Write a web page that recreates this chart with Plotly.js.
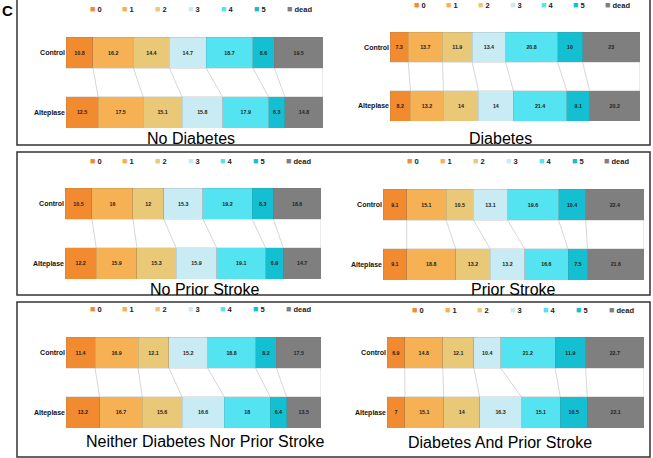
<!DOCTYPE html>
<html>
<head>
<meta charset="utf-8">
<script src="https://cdn.plot.ly/plotly-3.0.1.min.js"></script>
<style>html,body{margin:0;padding:0;background:#fff;}#chart{width:653px;height:458px;}</style>
</head>
<body>
<div id="chart"></div>
<script>
// ---------------- DATA ----------------
const levels = ['0', '1', '2', '3', '4', '5', 'dead'];
const groups = ['Control', 'Alteplase'];
const panelTitles = ['No Diabetes', 'Diabetes', 'No Prior Stroke', 'Prior Stroke',
                     'Neither Diabetes Nor Prior Stroke', 'Diabetes And Prior Stroke'];

const noDiabetesControl   = [10.8, 16.2, 14.4, 14.7, 18.7, 8.6, 19.5];
const noDiabetesAlteplase = [12.5, 17.5, 15.1, 15.8, 17.9, 6.3, 14.8];
const diabetesControl     = [7.3, 13.7, 11.9, 13.4, 20.8, 10, 23];
const diabetesAlteplase   = [8.2, 13.2, 14, 14, 21.4, 9.1, 20.2];
const noPriorControl      = [10.5, 16, 12, 15.3, 19.2, 8.3, 18.6];
const noPriorAlteplase    = [12.2, 15.9, 15.3, 15.9, 19.1, 6.9, 14.7];
const priorControl        = [9.1, 15.1, 10.5, 13.1, 19.6, 10.4, 22.4];
const priorAlteplase      = [9.1, 18.8, 13.2, 13.2, 16.6, 7.5, 21.6];
const neitherControl      = [11.4, 16.9, 12.1, 15.2, 18.8, 8.2, 17.5];
const neitherAlteplase    = [13.2, 16.7, 15.6, 16.6, 18, 6.4, 13.5];
const bothControl         = [6.9, 14.8, 12.1, 10.4, 21.2, 11.9, 22.7];
const bothAlteplase       = [7, 15.1, 14, 16.3, 15.1, 10.5, 22.1];

const panelData = [
  [noDiabetesControl, noDiabetesAlteplase],
  [diabetesControl, diabetesAlteplase],
  [noPriorControl, noPriorAlteplase],
  [priorControl, priorAlteplase],
  [neitherControl, neitherAlteplase],
  [bothControl, bothAlteplase]
];

// ---------------- STYLE / LAYOUT ----------------
const colors = ['#F28B30', '#F5B153', '#E9C877', '#C9ECF4', '#53E3F1', '#14BFD1', '#7F7F7F'];
const W = 653, H = 458;
const FONT = 'Liberation Sans, Arial, Helvetica, sans-serif';
// geometry in pixels: bar box x0,x1,y0,y1 ; legend first square x, spacing, legend y ; title centre x, title baseline y
const geom = [
  {bx: [66, 323], by: [37, 128], lx: 90, ls: 32.9, ly: 9, tx: 191, ty: 144},
  {bx: [390, 640], by: [32, 121], lx: 414.7, ls: 31.8, ly: 5, tx: 500, ty: 144},
  {bx: [65, 321], by: [188, 279], lx: 90, ls: 32.7, ly: 161, tx: 204, ty: 294.7},
  {bx: [383, 644], by: [189, 280], lx: 408, ls: 32.8, ly: 161, tx: 513, ty: 294.7},
  {bx: [66, 321], by: [337, 428], lx: 90, ls: 32.7, ly: 309, tx: 204.5, ty: 446.7},
  {bx: [387, 644], by: [337, 428], lx: 412.3, ls: 32.8, ly: 310, tx: 499.5, ty: 447.7}
];
const rowBoxes = [[17, 650, -2, 145], [17, 650, 152, 295], [17, 650, 302, 457]];
const bargap = 0.483;
const barW = 1 - bargap;

const px = x => x / W;
const py = y => 1 - y / H;

const traces = [];
const layout = {
  width: W, height: H,
  margin: {l: 0, r: 0, t: 0, b: 0, autoexpand: false},
  paper_bgcolor: '#fff', plot_bgcolor: 'rgba(0,0,0,0)',
  barmode: 'stack', barnorm: 'percent', bargap: bargap,
  font: {family: FONT, color: '#111'},
  showlegend: false,
  annotations: [], shapes: []
};

panelData.forEach((rows, p) => {
  const k = p === 0 ? '' : String(p + 1);
  const xa = 'x' + k, ya = 'y' + k;
  const g = geom[p];
  const ypos = groups.map((_, i) => i);

  levels.forEach((lv, j) => {
    const vals = rows.map(r => r[j]);
    traces.push({
      type: 'bar', orientation: 'h',
      x: vals, y: ypos,
      xaxis: xa, yaxis: ya,
      name: lv, showlegend: false,
      marker: {color: colors[j], line: {color: 'rgba(110,110,110,0.35)', width: 0.5}},
      text: vals.map(v => String(v)),
      textposition: 'inside', insidetextanchor: 'middle', textangle: 0,
      constraintext: 'none',
      textfont: {family: FONT, size: 5.3, color: '#222', weight: 'bold'},
      hoverinfo: 'x+y+name'
    });
    // legend item for this level
    layout.annotations.push({
      xref: 'paper', yref: 'paper', x: px(g.lx + j * g.ls - 1.5), y: py(g.ly),
      xanchor: 'left', yanchor: 'middle', showarrow: false, borderpad: 0,
      text: '<span style="color:' + colors[j] + ';font-size:9px">■</span> ' + lv,
      font: {family: FONT, size: 7.5, color: '#222', weight: 'bold'}
    });
  });

  // connector lines between cumulative boundaries
  const cum = rows.map(r => {
    const tot = r.reduce((a, b) => a + b, 0);
    let s = 0;
    return r.map(v => { s += v; return s / tot * 100; });
  });
  const cx = [], cy = [];
  levels.forEach((_, j) => {
    cx.push(cum[0][j], cum[1][j], null);
    cy.push(ypos[0] + barW / 2, ypos[1] - barW / 2, null);
  });
  traces.push({
    type: 'scatter', mode: 'lines', x: cx, y: cy, xaxis: xa, yaxis: ya,
    line: {color: '#c4c4c4', width: 0.7}, showlegend: false, hoverinfo: 'skip',
    cliponaxis: false
  });

  layout['xaxis' + k] = {
    domain: [px(g.bx[0]), px(g.bx[1])], anchor: ya, range: [0, 100],
    showgrid: false, zeroline: false, showticklabels: false, showline: false, ticks: '', fixedrange: true
  };
  layout['yaxis' + k] = {
    domain: [py(g.by[1]), py(g.by[0])], anchor: xa,
    range: [ypos[1] + barW / 2, ypos[0] - barW / 2],
    tickvals: ypos, ticktext: groups,
    showgrid: false, zeroline: false, showline: false, ticks: '', fixedrange: true,
    tickfont: {family: FONT, size: 7, color: '#111', weight: 'bold'}
  };
  layout.annotations.push({
    xref: 'paper', yref: 'paper', x: px(g.tx), y: py(g.ty - 5.6),
    xanchor: 'center', yanchor: 'middle', showarrow: false,
    text: panelTitles[p], font: {family: FONT, size: 16, color: '#000'}
  });
});

rowBoxes.forEach(b => {
  layout.shapes.push({
    type: 'rect', xref: 'paper', yref: 'paper',
    x0: px(b[0]), x1: px(b[1]), y0: py(b[3]), y1: py(b[2]),
    line: {color: '#333', width: 1.5}, fillcolor: 'rgba(0,0,0,0)', layer: 'below'
  });
});

layout.annotations.push({
  xref: 'paper', yref: 'paper', x: 0, y: 1, xanchor: 'left', yanchor: 'top',
  showarrow: false, text: '<b>C</b>', font: {family: FONT, size: 15, color: '#000'}
});

Plotly.newPlot('chart', traces, layout, {displayModeBar: false, staticPlot: true});
</script>
</body>
</html>
